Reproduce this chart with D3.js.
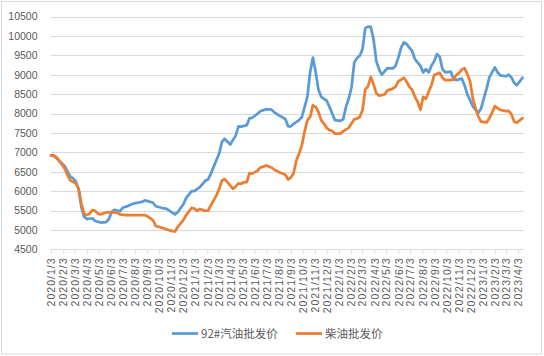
<!DOCTYPE html>
<html><head><meta charset="utf-8">
<script src="https://cdn.jsdelivr.net/npm/d3@7"></script>
<style>html,body{margin:0;padding:0;background:#fff;}svg{display:block;}</style>
</head><body>
<svg id="chart" width="544" height="356"></svg>
<script>
// ---- data (weeks counted from 2020/1/3, weekly Friday prices) ----
const startDate = "2020-01-03";
const seriesNames = ["92#汽油批发价", "柴油批发价"];
const gasWeeks = [0,1,5,7,8,9,10,11,12,13,15,16,18,20,21,22,23,25,26,28,30,33,34,35,37,38,40,42,43,45,46,48,49,51,52,54,56,57,58,61,62,63,64,65,67,68,69,71,72,73,75,76,78,80,81,83,85,86,87,88,90,91,93,94,95,96,97,98,100,101,102,103,105,106,107,108,109,110,111,112,113,114,115,116,117,118,119,120,122,124,125,126,127,128,129,131,132,134,135,136,137,138,139,140,141,142,143,145,146,147,149,150,151,153,154,155,156,158,159,161,162,163,165,166,167,168,169,171];
const gasValues = [6920,6920,6640,6370,6330,6250,6060,5590,5340,5280,5300,5230,5190,5200,5280,5460,5520,5480,5570,5620,5680,5720,5760,5740,5700,5610,5570,5540,5490,5400,5460,5660,5820,6000,6000,6100,6270,6300,6450,6970,7270,7350,7270,7200,7430,7670,7660,7700,7880,7890,8000,8060,8110,8100,8030,7940,7860,7670,7670,7730,7830,7910,8430,9070,9440,9070,8620,8430,8330,8170,8000,7830,7810,7850,8170,8380,8670,9310,9430,9490,9660,10200,10240,10230,9910,9350,9140,9000,9170,9160,9230,9440,9700,9830,9790,9610,9400,9230,9060,9140,9060,9230,9350,9530,9460,9140,9060,9080,8890,8860,8900,8730,8500,8190,8090,8020,8130,8640,8930,9190,9060,8980,8960,9000,8930,8790,8730,8920];
const dieselWeeks = [0,2,5,6,7,9,10,11,12,13,14,15,16,17,18,20,22,24,25,27,29,34,35,37,38,40,42,44,45,46,48,49,51,52,53,54,56,57,58,60,61,62,63,64,66,67,68,69,70,71,72,73,75,76,77,78,80,81,83,85,86,87,88,89,90,91,92,93,94,95,96,97,98,99,100,101,102,103,105,106,107,108,110,111,112,113,114,115,116,117,118,119,121,122,124,125,126,127,128,129,130,131,132,133,134,135,136,137,138,139,141,142,143,145,146,147,148,149,150,151,152,153,154,155,156,158,159,160,161,163,165,166,167,168,169,171];
const dieselValues = [6920,6880,6580,6410,6270,6200,6060,5680,5420,5380,5420,5510,5490,5420,5400,5450,5460,5440,5400,5380,5380,5380,5350,5250,5100,5060,5010,4970,4960,5080,5250,5380,5570,5550,5490,5540,5490,5500,5630,5890,6060,6270,6310,6230,6060,6120,6200,6190,6230,6230,6460,6450,6530,6610,6630,6660,6610,6550,6480,6420,6300,6350,6460,6790,6970,7180,7540,7830,7910,8210,8170,8040,7830,7740,7630,7570,7550,7480,7480,7540,7590,7630,7850,7870,7910,8090,8620,8700,8940,8750,8520,8460,8490,8590,8640,8690,8830,8870,8920,8820,8690,8610,8430,8300,8100,8430,8380,8560,8730,8990,9050,8920,8860,8860,8880,8990,9040,9130,9170,9020,8830,8390,8130,7920,7790,7770,7880,8020,8190,8090,8060,8070,7980,7790,7760,7880];
const xTickLabels = ["2020/1/3","2020/2/3","2020/3/3","2020/4/3","2020/5/3","2020/6/3","2020/7/3","2020/8/3","2020/9/3","2020/10/3","2020/11/3","2020/12/3","2021/1/3","2021/2/3","2021/3/3","2021/4/3","2021/5/3","2021/6/3","2021/7/3","2021/8/3","2021/9/3","2021/10/3","2021/11/3","2021/12/3","2022/1/3","2022/2/3","2022/3/3","2022/4/3","2022/5/3","2022/6/3","2022/7/3","2022/8/3","2022/9/3","2022/10/3","2022/11/3","2022/12/3","2023/1/3","2023/2/3","2023/3/3","2023/4/3"];
const yTicks = [4500,5000,5500,6000,6500,7000,7500,8000,8500,9000,9500,10000,10500];

// ---- drawing ----
const svg = d3.select("#chart");
const parse = d3.utcParse("%Y/%-m/%-d");
const start = d3.utcParse("%Y-%m-%d")(startDate);
const toDate = w => d3.utcDay.offset(start, w * 7);
const tickDates = xTickLabels.map(parse);

const x = d3.scaleUtc().domain([start, d3.utcDay.offset(parse("2023/4/3"), 15)]).range([51, 524]);
const y = d3.scaleLinear().domain([4500, 10500]).range([249.3, 16.5]);

// border
svg.append("rect").attr("x", 1.5).attr("y", 1.5).attr("width", 540).attr("height", 352.5)
  .attr("fill", "#fff").attr("stroke", "#D9D9D9").attr("stroke-width", 1);

// gridlines
svg.append("g").selectAll("line").data(yTicks.slice(1)).join("line")
  .attr("x1", 51).attr("x2", 524)
  .attr("y1", d => Math.round(y(d)) + 0.5).attr("y2", d => Math.round(y(d)) + 0.5)
  .attr("stroke", "#D9D9D9").attr("stroke-width", 1);

// y axis labels
const yAxis = d3.axisLeft(y).tickValues(yTicks).tickFormat(d3.format("d")).tickSize(0).tickPadding(0);
const yg = svg.append("g").attr("transform", "translate(37.5,0)").call(yAxis);
yg.select(".domain").remove();
yg.selectAll("text").attr("font-family", "'Liberation Sans', Arial, sans-serif")
  .attr("font-size", "10.5px").attr("fill", "#595959");

// x axis
const xAxis = d3.axisBottom(x).tickValues(tickDates).tickFormat((d, i) => xTickLabels[i]).tickSize(4).tickSizeOuter(0);
const xg = svg.append("g").attr("transform", "translate(0," + (Math.round(y(4500)) + 0.5) + ")").call(xAxis);
xg.select(".domain").attr("stroke", "#D9D9D9").attr("d", "M51,0H524");
xg.selectAll(".tick line").attr("stroke", "#D9D9D9");
xg.selectAll(".tick text")
  .attr("font-family", "'Liberation Sans', Arial, sans-serif").attr("font-size", "10.5px")
  .attr("letter-spacing", "1px").attr("fill", "#595959")
  .attr("text-anchor", "end").attr("dy", "0.35em")
  .attr("transform", "rotate(-90)").attr("x", -8).attr("y", 0);

// lines
const line = d3.line().x(d => x(d[0])).y(d => y(d[1]));
const gasData = gasWeeks.map((w, i) => [toDate(w), gasValues[i]]);
const dieselData = dieselWeeks.map((w, i) => [toDate(w), dieselValues[i]]);
const colors = ["#5B9BD5", "#ED7D31"];
[gasData, dieselData].forEach((data, i) => {
  svg.append("path").datum(data).attr("d", line)
    .attr("fill", "none").attr("stroke", colors[i]).attr("stroke-width", 2.75)
    .attr("stroke-linejoin", "round").attr("stroke-linecap", "round");
});

// legend
const legendX = [172, 296];
const lg = svg.append("g");
seriesNames.forEach((name, i) => {
  lg.append("line").attr("x1", legendX[i]).attr("x2", legendX[i] + 26)
    .attr("y1", 333.5).attr("y2", 333.5).attr("stroke", colors[i]).attr("stroke-width", 2.75);
  lg.append("text").attr("x", legendX[i] + 29).attr("y", 333.5).attr("dy", "0.36em")
    .attr("font-family", "'Noto Sans CJK SC', sans-serif").attr("font-size", "11.5px")
    .attr("fill", "#595959").text(name);
});
</script>
</body></html>
